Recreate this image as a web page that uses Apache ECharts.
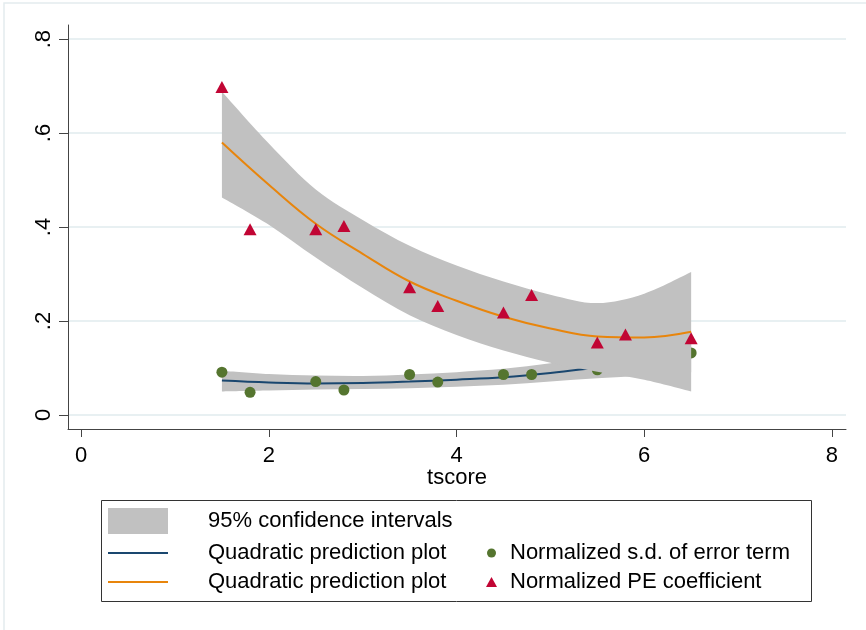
<!DOCTYPE html>
<html><head><meta charset="utf-8">
<script src="https://cdn.jsdelivr.net/npm/echarts@6/dist/echarts.min.js"></script>
<style>html,body{margin:0;padding:0;background:#fff}#c{width:866px;height:630px}</style>
</head><body><div id="c"></div>
<script>
// ---- data ----
const tscore = [1.5, 1.8, 2.5, 2.8, 3.5, 3.8, 4.5, 4.8, 5.5, 5.8, 6.5];
const peCoef = [0.698, 0.395, 0.395, 0.402, 0.272, 0.232, 0.218, 0.255, 0.154, 0.171, 0.163];
const sdError = [0.091, 0.048, 0.071, 0.053, 0.086, 0.070, 0.086, 0.086, 0.096, 0.110, 0.132];

const fitX  = [1.5, 2.0, 2.5, 3.0, 3.5, 4.0, 4.5, 5.0, 5.5, 6.0, 6.5];
const peFit = [0.580, 0.490, 0.407, 0.343, 0.284, 0.243, 0.209, 0.184, 0.167, 0.165, 0.177];
const peHi  = [0.688, 0.578, 0.480, 0.415, 0.360, 0.318, 0.284, 0.256, 0.238, 0.258, 0.304];
const peLo  = [0.463, 0.405, 0.335, 0.270, 0.212, 0.170, 0.137, 0.111, 0.092, 0.075, 0.050];
const sdFit = [0.073, 0.069, 0.067, 0.068, 0.071, 0.075, 0.080, 0.089, 0.101, 0.113, 0.128];
const sdHi  = [0.094, 0.087, 0.084, 0.083, 0.086, 0.091, 0.098, 0.110, 0.125, 0.142, 0.165];
const sdLo  = [0.050, 0.052, 0.054, 0.055, 0.057, 0.060, 0.064, 0.071, 0.078, 0.084, 0.091];

const xTicks = [0, 2, 4, 6, 8];
const xTickLabels = ['0', '2', '4', '6', '8'];
const yTicks = [0, 0.2, 0.4, 0.6, 0.8];
const yTickLabels = ['0', '.2', '.4', '.6', '.8'];

const names = {
  ci: '95% confidence intervals',
  fitSd: 'Quadratic prediction plot',
  fitPe: 'Quadratic prediction plot',
  sd: 'Normalized s.d. of error term',
  pe: 'Normalized PE coefficient'
};

// ---- rendering ----
const FONT = "'Liberation Sans', Arial, Helvetica, sans-serif";
const GRAY = '#c1c1c1';
const LINE_ICON = 'path://M0,0L60,0L60,2L0,2Z';

function catmull(pts) {
  let d = '';
  for (let i = 0; i < pts.length - 1; i++) {
    const p0 = pts[Math.max(i - 1, 0)], p1 = pts[i], p2 = pts[i + 1], p3 = pts[Math.min(i + 2, pts.length - 1)];
    const c1 = [p1[0] + (p2[0] - p0[0]) / 6, p1[1] + (p2[1] - p0[1]) / 6];
    const c2 = [p2[0] - (p3[0] - p1[0]) / 6, p2[1] - (p3[1] - p1[1]) / 6];
    d += ' C' + c1[0] + ',' + c1[1] + ' ' + c2[0] + ',' + c2[1] + ' ' + p2[0] + ',' + p2[1];
  }
  return d;
}
function bandSeries(id, lo, hi, z) {
  return {
    id: id, name: 'ci', type: 'custom', z: z, silent: true,
    itemStyle: { color: GRAY },
    data: fitX.map((x, i) => [x, lo[i], hi[i]]),
    encode: { x: 0, y: [1, 2] },
    renderItem: function (params, api) {
      if (params.dataIndex !== 0) return null;
      const up = fitX.map((x, i) => api.coord([x, hi[i]]));
      const dn = fitX.map((x, i) => api.coord([x, lo[i]])).reverse();
      const d = 'M' + up[0][0] + ',' + up[0][1] + catmull(up) +
        ' L' + dn[0][0] + ',' + dn[0][1] + catmull(dn) + ' Z';
      return { type: 'path', shape: { pathData: d }, style: { fill: GRAY, stroke: null } };
    }
  };
}

const chart = echarts.init(document.getElementById('c'), null, { renderer: 'canvas' });
const txt = { fontSize: 22, fontFamily: FONT, color: '#000' };

chart.setOption({
  animation: false,
  backgroundColor: '#fff',
  grid: { left: 68, right: 20, top: 25, bottom: 201, containLabel: false },
  xAxis: {
    type: 'value', min: -0.14, max: 8.15,
    name: 'tscore', nameLocation: 'middle', nameGap: 38, nameMoveOverlap: false, nameTextStyle: txt,
    axisLine: { show: true, onZero: false, lineStyle: { color: '#444', width: 1 } },
    axisTick: { show: true, length: 8, customValues: xTicks, lineStyle: { color: '#444' } },
    axisLabel: {
      customValues: xTicks, margin: 16, ...txt,
      formatter: v => xTickLabels[xTicks.indexOf(v)]
    },
    splitLine: { show: false }
  },
  yAxis: {
    type: 'value', min: -0.03, max: 0.83,
    axisLine: { show: true, onZero: false, lineStyle: { color: '#444', width: 1 } },
    axisTick: { show: true, length: 9, customValues: yTicks, lineStyle: { color: '#444' } },
    axisLabel: {
      customValues: yTicks, rotate: 90, margin: 13, ...txt,
      formatter: v => { const i = yTicks.findIndex(t => Math.abs(t - v) < 1e-9); return i < 0 ? '' : yTickLabels[i]; }
    },
    splitLine: { show: false }
  },
  legend: [
    {
      left: 108, top: 508, padding: 0, itemWidth: 60, itemHeight: 26, selectedMode: false,
      data: [{ name: 'ci', icon: 'rect' }],
      formatter: n => names[n],
      textStyle: { ...txt, padding: [0, 0, 0, 35] }
    },
    {
      left: 108, top: 542, padding: 0, orient: 'vertical', itemWidth: 60, itemHeight: 22, itemGap: 7, selectedMode: false,
      data: [{ name: 'fitSd', icon: LINE_ICON }, { name: 'fitPe', icon: LINE_ICON }],
      formatter: n => names[n],
      textStyle: { ...txt, lineHeight: 22, padding: [0, 0, 0, 35] }
    },
    {
      left: 487, top: 542, padding: 0, itemWidth: 9, itemHeight: 9, selectedMode: false,
      data: ['sd'],
      formatter: n => names[n],
      textStyle: { ...txt, lineHeight: 22, padding: [0, 0, 0, 9] }
    },
    {
      left: 486, top: 571, padding: 0, itemWidth: 11, itemHeight: 10, selectedMode: false,
      data: ['pe'],
      formatter: n => names[n],
      textStyle: { ...txt, lineHeight: 22, padding: [0, 0, 0, 8] }
    }
  ],
  graphic: [
    { type: 'rect', shape: { x: 4, y: 3, width: 900, height: 700 }, style: { fill: null, stroke: '#e4ebee', lineWidth: 1.5 }, silent: true, z: -10 },
    { type: 'rect', shape: { x: 101.5, y: 500.5, width: 710, height: 101 }, style: { fill: null, stroke: '#333', lineWidth: 1 }, silent: true }
  ],
  series: [
    {
      type: 'line', name: 'grid', data: [], z: 0, silent: true,
      markLine: {
        z: 0, silent: true, symbol: ['none', 'none'], label: { show: false }, animation: false,
        lineStyle: { color: '#e8f0f2', width: 2, type: 'solid' },
        emphasis: { disabled: true },
        data: yTicks.map(v => ({ yAxis: v }))
      }
    },
    bandSeries('sdBand', sdLo, sdHi, 10),
    {
      type: 'line', name: 'fitSd', z: 11, symbol: 'none', smooth: 0.4, silent: true,
      lineStyle: { color: '#1a476f', width: 2 }, itemStyle: { color: '#1a476f' },
      data: fitX.map((x, i) => [x, sdFit[i]])
    },
    {
      type: 'scatter', name: 'sd', z: 12, symbol: 'circle', symbolSize: 11, silent: true,
      itemStyle: { color: '#55752f', opacity: 1 },
      data: tscore.map((x, i) => [x, sdError[i]])
    },
    bandSeries('peBand', peLo, peHi, 13),
    {
      type: 'line', name: 'fitPe', z: 14, symbol: 'none', smooth: 0.4, silent: true,
      lineStyle: { color: '#e8850c', width: 2 }, itemStyle: { color: '#e8850c' },
      data: fitX.map((x, i) => [x, peFit[i]])
    },
    {
      type: 'scatter', name: 'pe', z: 15, symbol: 'triangle', symbolSize: [13, 12], silent: true,
      itemStyle: { color: '#c10534', opacity: 1 },
      data: tscore.map((x, i) => [x, peCoef[i]])
    }
  ]
});
</script>
</body></html>
